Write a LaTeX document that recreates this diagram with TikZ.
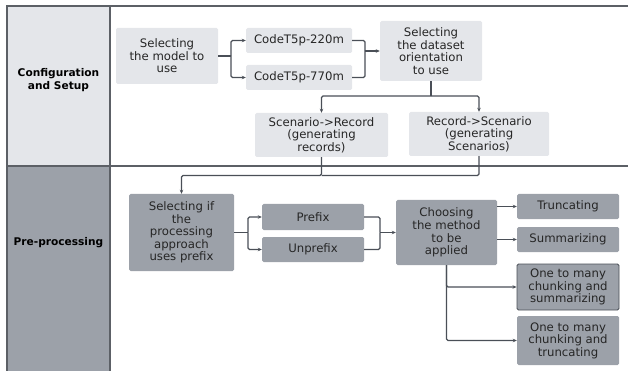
\documentclass[tikz,border=0pt]{standalone}
\usepackage{fontspec}
\setmainfont{DejaVu Sans}
\usetikzlibrary{arrows.meta}
\definecolor{lightbox}{HTML}{E4E6EA}
\definecolor{darkbox}{HTML}{9CA1A9}
\definecolor{lineclr}{HTML}{4A4F57}
\definecolor{frameclr}{HTML}{5C6066}
\tikzset{
  box/.style={rectangle, rounded corners=1.5pt, inner sep=0pt, align=center,
    font=\fontsize{11.7}{12.6}\selectfont, text=black!85},
  lbox/.style={box, fill=lightbox},
  dbox/.style={box, fill=darkbox},
  conn/.style={draw=lineclr, line width=1.1pt, rounded corners=1.5pt},
  arr/.style={conn, -{Stealth[length=4pt,width=3.5pt]}},
  frameline/.style={draw=frameclr, line width=1.4pt},
  lane/.style={font=\fontsize{10.6}{12.6}\selectfont\bfseries, align=center}
}
\begin{document}
\begin{tikzpicture}[x=1pt,y=-1pt]
\useasboundingbox (0,0) rectangle (628,371);
% lanes
\fill[lightbox] (7,6) rectangle (110,166);
\fill[darkbox] (7,166) rectangle (110,371);
\draw[frameline] (7,371) -- (7,6) -- (628,6);
\draw[frameline] (7,166) -- (628,166);
\draw[frameline] (110,6) -- (110,371);
\node[lane] (lane1) at (58.5,80) {Configuration\\and Setup};
\node[lane] (lane2) at (58.5,243) {Pre-processing};
% top boxes
\node[lbox, minimum width=102, minimum height=56] (model) at (167,56) {Selecting\\the model to\\use};
\node[lbox, minimum width=106, minimum height=25] (c220) at (299,40.5) {CodeT5p-220m};
\node[lbox, minimum width=106, minimum height=25] (c770) at (299,77.5) {CodeT5p-770m};
\node[lbox, minimum width=102, minimum height=60] (dataset) at (431,51) {Selecting\\the dataset\\orientation\\to use};
\node[lbox, minimum width=133, minimum height=44] (s2r) at (321.5,135) {Scenario->Record\\(generating\\records)};
\node[lbox, minimum width=140, minimum height=44] (r2s) at (479,134) {Record->Scenario\\(generating\\Scenarios)};
% bottom boxes
\node[dbox, minimum width=105, minimum height=77] (sel) at (181.5,232.5) {Selecting if\\the\\processing\\approach\\uses prefix};
\node[dbox, minimum width=102, minimum height=26] (prefix) at (313,217) {Prefix};
\node[dbox, minimum width=102, minimum height=25] (unprefix) at (313,249.5) {Unprefix};
\node[dbox, minimum width=101, minimum height=65] (choose) at (446.5,232.5) {Choosing\\the method\\to be\\applied};
\node[dbox, minimum width=102, minimum height=25] (trunc) at (568,206.5) {Truncating};
\node[dbox, minimum width=102, minimum height=25] (summ) at (568,239.5) {Summarizing};
\node[dbox, minimum width=102, minimum height=46, draw=lineclr, line width=0.9pt] (ocs) at (568,287) {One to many\\chunking and\\summarizing};
\node[dbox, minimum width=102, minimum height=49] (oct) at (568,340.5) {One to many\\chunking and\\truncating};
% connectors top
\coordinate (j1) at (231,56);
\draw[conn] (model.east) -- (j1);
\draw[arr] (j1) |- (c220.west);
\draw[arr] (j1) |- (c770.west);
\coordinate (j2) at (365,51);
\draw[conn] (c220.east) -| (j2);
\draw[conn] (c770.east) -| (j2);
\draw[arr] (j2) -- (dataset.west);
\coordinate (j3) at (431,96);
\draw[conn] (dataset.south) -- (j3);
\draw[arr] (j3) -| (s2r.north);
\draw[arr] (j3) -| (r2s.north);
\coordinate (j4) at (321.5,175.5);
\draw[conn] (r2s.south) |- (j4);
\draw[arr] (s2r.south) -- (j4) -| (sel.north);
% connectors bottom
\coordinate (j5) at (248,232.5);
\draw[conn] (sel.east) -- (j5);
\draw[arr] (j5) |- (prefix.west);
\draw[arr] (j5) |- (unprefix.west);
\coordinate (j6) at (380,232.5);
\draw[conn] (prefix.east) -| (j6);
\draw[conn] (unprefix.east) -| (j6);
\draw[arr] (j6) -- (choose.west);
\draw[arr] (choose.east |- trunc.west) -- (trunc.west);
\draw[arr] (choose.east |- summ.west) -- (summ.west);
\draw[arr] (choose.south) |- (ocs.west);
\draw[arr] (choose.south) |- (oct.west);
\end{tikzpicture}
\end{document}
